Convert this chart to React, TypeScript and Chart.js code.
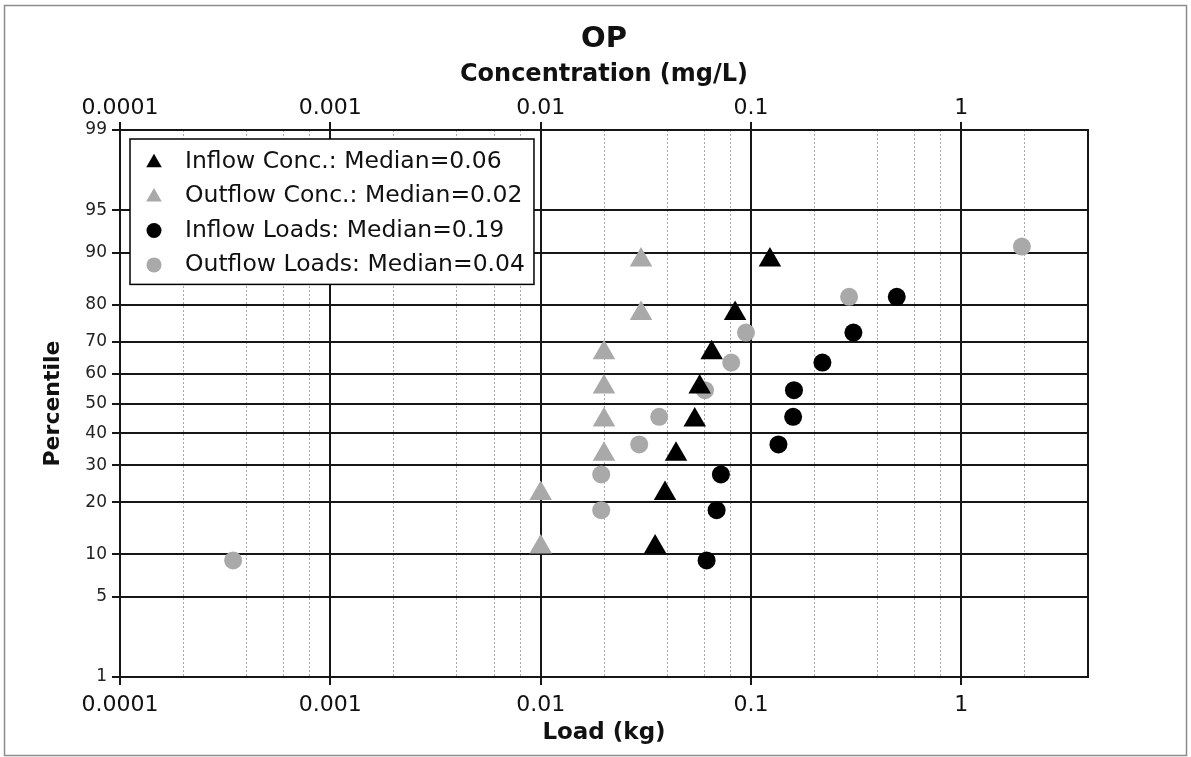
import React, { useEffect, useRef } from 'react';
import { Chart, registerables, LinearScale } from 'chart.js';

Chart.register(...registerables);

// ---------------- data ----------------
const CHART_TITLE = 'OP';
const X_TOP_TITLE = 'Concentration (mg/L)';
const X_BOTTOM_TITLE = 'Load (kg)';
const Y_TITLE = 'Percentile';

const X_MIN = 0.0001;
const X_MAX = 4;
const X_MAJOR = [0.0001, 0.001, 0.01, 0.1, 1];
const X_MAJOR_LABELS = ['0.0001', '0.001', '0.01', '0.1', '1'];
const X_MINOR_MULT = [2, 4, 6, 8];

const Y_MIN = 1;
const Y_MAX = 99;
const Y_TICKS = [1, 5, 10, 20, 30, 40, 50, 60, 70, 80, 90, 95, 99];

const SERIES_LABELS = [
  'Inflow Conc.: Median=0.06',
  'Outflow Conc.: Median=0.02',
  'Inflow Loads: Median=0.19',
  'Outflow Loads: Median=0.04',
];

const CONC_PCT = [11.1, 22.2, 33.3, 44.4, 55.6, 66.7, 77.8, 88.9];
const INFLOW_CONC = [0.035, 0.039, 0.044, 0.054, 0.057, 0.065, 0.084, 0.123];
const OUTFLOW_CONC = [0.01, 0.01, 0.02, 0.02, 0.02, 0.02, 0.03, 0.03];

const INFLOW_LOADS_PCT = [9.1, 18.2, 27.3, 36.4, 45.5, 54.5, 63.6, 72.7, 81.8];
const INFLOW_LOADS = [0.0615, 0.0686, 0.0719, 0.135, 0.1586, 0.16, 0.2185, 0.3067, 0.493];

const OUTFLOW_LOADS_PCT = [9.1, 18.2, 27.3, 36.4, 45.5, 54.5, 63.6, 72.7, 81.8, 90.9];
const OUTFLOW_LOADS = [0.000345, 0.0194, 0.0194, 0.0294, 0.0366, 0.0604, 0.0805, 0.0946, 0.2926, 1.94];

// ---------------- styles ----------------
const BLACK = '#000000';
const GRAY = '#a9a9a9';
const GRID_DARK = '#161616';
const GRID_MINOR = '#a8a8a8';
const FONT = '"DejaVu Sans", Verdana, sans-serif';

const TITLE_SIZE = 29;
const TITLE_PAD_TOP = 22;
const TOP_AXIS_TITLE_SIZE = 24;
const PLOT_TOP = 130;
const PLOT_BOTTOM = 677;
const CANVAS_W = 1191;
const CANVAS_H = 757;
const LEGEND_FONT = 23.5;

// ---------------- probability scale ----------------
function probit(p: number): number {
  const a = [-3.969683028665376e1, 2.209460984245205e2, -2.759285104469687e2, 1.38357751867269e2, -3.066479806614716e1, 2.506628277459239];
  const b = [-5.447609879822406e1, 1.615858368580409e2, -1.556989798598866e2, 6.680131188771972e1, -1.328068155288572e1];
  const c = [-7.784894002430293e-3, -3.223964580411365e-1, -2.400758277161838, -2.54967183045812, 4.374664141464968, 2.938163982698783];
  const d = [7.784695709041462e-3, 3.224671290700398e-1, 2.445134137142996, 3.754408661907416];
  const pl = 0.02425;
  const ph = 1 - pl;
  if (p < pl) {
    const q = Math.sqrt(-2 * Math.log(p));
    return (((((c[0] * q + c[1]) * q + c[2]) * q + c[3]) * q + c[4]) * q + c[5]) / ((((d[0] * q + d[1]) * q + d[2]) * q + d[3]) * q + 1);
  }
  if (p <= ph) {
    const q = p - 0.5;
    const r = q * q;
    return ((((((a[0] * r + a[1]) * r + a[2]) * r + a[3]) * r + a[4]) * r + a[5]) * q) / (((((b[0] * r + b[1]) * r + b[2]) * r + b[3]) * r + b[4]) * r + 1);
  }
  const q = Math.sqrt(-2 * Math.log(1 - p));
  return -(((((c[0] * q + c[1]) * q + c[2]) * q + c[3]) * q + c[4]) * q + c[5]) / ((((d[0] * q + d[1]) * q + d[2]) * q + d[3]) * q + 1);
}

function normCdf(z: number): number {
  const t = 1 / (1 + (0.3275911 * Math.abs(z)) / Math.SQRT2);
  const y = 1 - ((((1.061405429 * t - 1.453152027) * t + 1.421413741) * t - 0.284496736) * t + 0.254829592) * t * Math.exp(-(z * z) / 2);
  return z >= 0 ? 0.5 * (1 + y) : 0.5 * (1 - y);
}

class ProbabilityScale extends LinearScale {
  static id = 'probability';
  static defaults = {};
  determineDataLimits() {
    (this as any).min = probit(Y_MIN / 100);
    (this as any).max = probit(Y_MAX / 100);
  }
  buildTicks() {
    return Y_TICKS.map((v) => ({ value: v }));
  }
  getPixelForValue(value: number) {
    if (value === null || value === undefined || isNaN(value)) return NaN;
    return super.getPixelForValue(probit(value / 100));
  }
  getValueForPixel(pixel: number) {
    return normCdf(super.getValueForPixel(pixel) as number) * 100;
  }
}
Chart.register(ProbabilityScale as any);

const isMajor = (v: number | undefined) => v !== undefined && X_MAJOR.indexOf(v) >= 0;

function buildXTicks() {
  const vals: number[] = [];
  X_MAJOR.forEach((m) => {
    vals.push(m);
    X_MINOR_MULT.forEach((k) => {
      const v = m * k;
      if (v <= X_MAX) vals.push(v);
    });
  });
  return vals.sort((p, q) => p - q).map((v) => ({ value: v, major: isMajor(v) }));
}

const toPoints = (xs: number[], ys: number[]) => xs.map((x, i) => ({ x, y: ys[i] }));

const decorPlugin = {
  id: 'decor',
  beforeDraw(chart: any) {
    const ctx = chart.ctx;
    ctx.save();
    ctx.fillStyle = '#ffffff';
    ctx.fillRect(0, 0, chart.width, chart.height);
    ctx.strokeStyle = '#8c8c8c';
    ctx.lineWidth = 1.5;
    ctx.strokeRect(4.5, 5.5, chart.width - 9, chart.height - 7);
    ctx.restore();
  },
  beforeDatasetsDraw(chart: any) {
    const { ctx, chartArea } = chart;
    ctx.save();
    ctx.strokeStyle = GRID_DARK;
    ctx.lineWidth = 2;
    ctx.beginPath();
    ctx.moveTo(chartArea.right, chartArea.top);
    ctx.lineTo(chartArea.right, chartArea.bottom);
    ctx.stroke();
    ctx.restore();
  },
  afterDatasetsDraw(chart: any) {
    const { ctx, chartArea } = chart;
    const datasets = chart.data.datasets;
    ctx.save();
    ctx.font = `${LEGEND_FONT}px ${FONT}`;
    const textW = Math.max(...datasets.map((d: any) => ctx.measureText(d.label).width));
    const bx = chartArea.left + 10;
    const by = chartArea.top + 9;
    const rowH = 34.4;
    const firstOff = 22.7;
    const bw = 55 + textW + 9;
    const bh = firstOff + rowH * (datasets.length - 1) + 19.5;
    ctx.fillStyle = '#ffffff';
    ctx.fillRect(bx, by, bw, bh);
    ctx.strokeStyle = BLACK;
    ctx.lineWidth = 1.5;
    ctx.strokeRect(bx, by, bw, bh);
    datasets.forEach((d: any, i: number) => {
      const cy = by + firstOff + i * rowH;
      const cx = bx + 24;
      ctx.fillStyle = d.backgroundColor;
      ctx.beginPath();
      if (d.pointStyle === 'triangle') {
        const r = 9;
        ctx.moveTo(cx, cy - r + 1);
        ctx.lineTo(cx + r * Math.sin((2 * Math.PI) / 3), cy + r / 2 + 1);
        ctx.lineTo(cx - r * Math.sin((2 * Math.PI) / 3), cy + r / 2 + 1);
        ctx.closePath();
      } else {
        ctx.arc(cx, cy, 7.5, 0, Math.PI * 2);
      }
      ctx.fill();
      ctx.fillStyle = '#111111';
      ctx.textBaseline = 'middle';
      ctx.textAlign = 'left';
      ctx.fillText(d.label, bx + 55, cy);
    });
    ctx.restore();
  },
};

export default function App() {
  const ref = useRef<HTMLCanvasElement | null>(null);

  useEffect(() => {
    if (!ref.current) return;
    Chart.defaults.font.family = FONT;
    Chart.defaults.color = '#111111';

    const titleBoxH = TITLE_PAD_TOP + TITLE_SIZE * 1.2;
    const topAxisH = PLOT_TOP - titleBoxH;
    const topAxisTitlePad = 75 - titleBoxH - (TOP_AXIS_TITLE_SIZE * 1.2) / 2;

    const xGrid = {
      color: (c: any) => (isMajor(c.tick?.value) ? GRID_DARK : GRID_MINOR),
      lineWidth: (c: any) => (isMajor(c.tick?.value) ? 2 : 1),
      tickColor: (c: any) => (isMajor(c.tick?.value) ? GRID_DARK : 'rgba(0,0,0,0)'),
      tickWidth: 2,
      tickLength: 8,
    };
    const xBorder = {
      color: GRID_DARK,
      width: 2,
      dash: (c: any) => (c.tick && !isMajor(c.tick.value) ? [2, 2] : []),
    };
    const xTicks = {
      autoSkip: false,
      maxRotation: 0,
      minRotation: 0,
      font: { size: 22 },
      color: '#111111',
      callback: (v: any) => {
        const i = X_MAJOR.indexOf(Number(v));
        return i >= 0 ? X_MAJOR_LABELS[i] : '';
      },
    };

    const chart = new Chart(ref.current, {
      type: 'scatter',
      data: {
        datasets: [
          {
            label: SERIES_LABELS[0],
            data: toPoints(INFLOW_CONC, CONC_PCT),
            xAxisID: 'x2',
            pointStyle: 'triangle',
            pointRadius: 13,
            backgroundColor: BLACK,
            borderColor: BLACK,
            borderWidth: 0,
          },
          {
            label: SERIES_LABELS[1],
            data: toPoints(OUTFLOW_CONC, CONC_PCT),
            xAxisID: 'x2',
            pointStyle: 'triangle',
            pointRadius: 13,
            backgroundColor: GRAY,
            borderColor: GRAY,
            borderWidth: 0,
          },
          {
            label: SERIES_LABELS[2],
            data: toPoints(INFLOW_LOADS, INFLOW_LOADS_PCT),
            xAxisID: 'x',
            pointStyle: 'circle',
            pointRadius: 9,
            backgroundColor: BLACK,
            borderColor: BLACK,
            borderWidth: 0,
          },
          {
            label: SERIES_LABELS[3],
            data: toPoints(OUTFLOW_LOADS, OUTFLOW_LOADS_PCT),
            xAxisID: 'x',
            pointStyle: 'circle',
            pointRadius: 9,
            backgroundColor: GRAY,
            borderColor: GRAY,
            borderWidth: 0,
          },
        ],
      },
      options: {
        animation: false,
        responsive: false,
        devicePixelRatio: 1,
        layout: { padding: { left: 0, right: 103, top: 0, bottom: 0 } },
        plugins: {
          legend: { display: false },
          tooltip: { enabled: false },
          title: {
            display: true,
            fullSize: false,
            text: CHART_TITLE,
            color: '#111111',
            font: { size: TITLE_SIZE, weight: 'bold' },
            padding: { top: TITLE_PAD_TOP, bottom: 0 },
          },
        },
        scales: {
          x: {
            type: 'logarithmic',
            position: 'bottom',
            min: X_MIN,
            max: X_MAX,
            afterBuildTicks: (s: any) => {
              s.ticks = buildXTicks();
            },
            afterFit: (s: any) => {
              s.height = CANVAS_H - PLOT_BOTTOM;
            },
            grid: { ...xGrid, drawOnChartArea: true, z: -1 },
            border: xBorder,
            ticks: { ...xTicks, padding: 7 },
            title: {
              display: true,
              text: X_BOTTOM_TITLE,
              color: '#111111',
              font: { size: 23, weight: 'bold' },
              padding: { top: 0, bottom: 10 },
            },
          },
          x2: {
            type: 'logarithmic',
            position: 'top',
            axis: 'x',
            min: X_MIN,
            max: X_MAX,
            afterBuildTicks: (s: any) => {
              s.ticks = buildXTicks();
            },
            afterFit: (s: any) => {
              s.height = topAxisH;
            },
            grid: { ...xGrid, drawOnChartArea: false },
            border: xBorder,
            ticks: { ...xTicks, padding: 1 },
            title: {
              display: true,
              text: X_TOP_TITLE,
              color: '#111111',
              font: { size: TOP_AXIS_TITLE_SIZE, weight: 'bold' },
              padding: { top: topAxisTitlePad, bottom: 0 },
            },
          },
          y: {
            type: 'probability' as any,
            position: 'left',
            afterFit: (s: any) => {
              s.width = 120;
            },
            grid: {
              color: GRID_DARK,
              lineWidth: 2,
              tickColor: GRID_DARK,
              tickWidth: 2,
              tickLength: 8,
              z: -1,
            },
            border: { color: GRID_DARK, width: 2 },
            ticks: {
              autoSkip: false,
              font: { size: 17 },
              color: '#222222',
              padding: 5,
              callback: (v: any) => String(v),
            },
            title: {
              display: true,
              text: Y_TITLE,
              color: '#111111',
              font: { size: 22, weight: 'bold' },
              padding: { top: 40, bottom: 0 },
            },
          },
        },
      } as any,
      plugins: [decorPlugin],
    });

    return () => {
      chart.destroy();
    };
  }, []);

  return (
    <div style={{ position: 'absolute', left: 0, top: 0, width: CANVAS_W, height: CANVAS_H, background: '#fff' }}>
      <canvas ref={ref} width={CANVAS_W} height={CANVAS_H} style={{ display: 'block', width: CANVAS_W, height: CANVAS_H }} />
    </div>
  );
}
